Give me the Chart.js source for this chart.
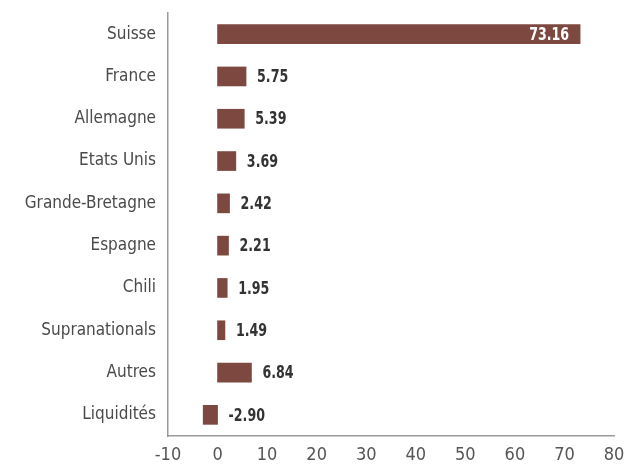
<!DOCTYPE html>
<html>
<head>
<meta charset="utf-8">
<script src="https://cdn.jsdelivr.net/npm/chart.js@4/dist/chart.umd.min.js"></script>
<style>
  html, body { margin: 0; padding: 0; background: #fff; }
  #wrap { width: 628px; height: 475px; }
</style>
</head>
<body>
<div id="wrap"><canvas id="chart" width="628" height="475"></canvas></div>
<script>
const categories = ['Suisse', 'France', 'Allemagne', 'Etats Unis', 'Grande-Bretagne', 'Espagne', 'Chili', 'Supranationals', 'Autres', 'Liquidités'];
const values = [73.16, 5.75, 5.39, 3.69, 2.42, 2.21, 1.95, 1.49, 6.84, -2.90];
const xTicks = [-10, 0, 10, 20, 30, 40, 50, 60, 70, 80];

const fontFamily = '"DejaVu Sans Condensed", "Liberation Sans Narrow", sans-serif';
const barColor = '#7c4840';

// draws the value next to each bar (inside the bar when it is too long)
const valueLabels = {
    id: 'valueLabels',
    afterDatasetsDraw(chart) {
        const ctx = chart.ctx;
        const meta = chart.getDatasetMeta(0);
        const x0 = chart.scales.x.getPixelForValue(0);
        const squeeze = 0.78;
        ctx.save();
        ctx.font = 'bold 18px ' + fontFamily;
        ctx.textBaseline = 'middle';
        meta.data.forEach(function(bar, i) {
            const v = values[i];
            const txt = v.toFixed(2);
            const inside = v > 50;
            const x = inside ? bar.x - 11 : Math.max(bar.x, x0) + 11;
            ctx.save();
            ctx.translate(x, bar.y + 1);
            ctx.scale(squeeze, 1);
            ctx.fillStyle = inside ? '#ffffff' : '#333333';
            ctx.textAlign = inside ? 'right' : 'left';
            ctx.fillText(txt, 0, 0);
            ctx.restore();
        });
        ctx.restore();
    }
};

new Chart(document.getElementById('chart'), {
    type: 'bar',
    data: {
        labels: categories,
        datasets: [{
            data: values,
            backgroundColor: barColor,
            barThickness: 19,
            borderWidth: 0
        }]
    },
    options: {
        indexAxis: 'y',
        responsive: false,
        animation: false,
        layout: { padding: { top: 13, right: 14, left: 0, bottom: 0 } },
        plugins: {
            legend: { display: false },
            tooltip: { enabled: false }
        },
        scales: {
            x: {
                min: -10,
                max: 80,
                afterBuildTicks(axis) {
                    axis.ticks = xTicks.map(function(v) { return { value: v }; });
                },
                afterFit(axis) {
                    axis.height = 39;
                    axis.paddingLeft = 0;
                    axis.paddingRight = 0;
                },
                grid: { display: false, drawTicks: false },
                border: { display: true, color: '#9a9a9a', width: 1.5 },
                ticks: {
                    color: '#555555',
                    padding: 9,
                    font: { family: fontFamily, size: 18 }
                }
            },
            y: {
                afterFit(axis) {
                    axis.width = 168;
                    axis.paddingTop = 0;
                    axis.paddingBottom = 0;
                },
                grid: { display: false, drawTicks: false },
                border: { display: true, color: '#9a9a9a', width: 1.5 },
                ticks: {
                    color: '#4a4a4a',
                    padding: 12,
                    font: { family: fontFamily, size: 17 }
                }
            }
        }
    },
    plugins: [valueLabels]
});
</script>
</body>
</html>
